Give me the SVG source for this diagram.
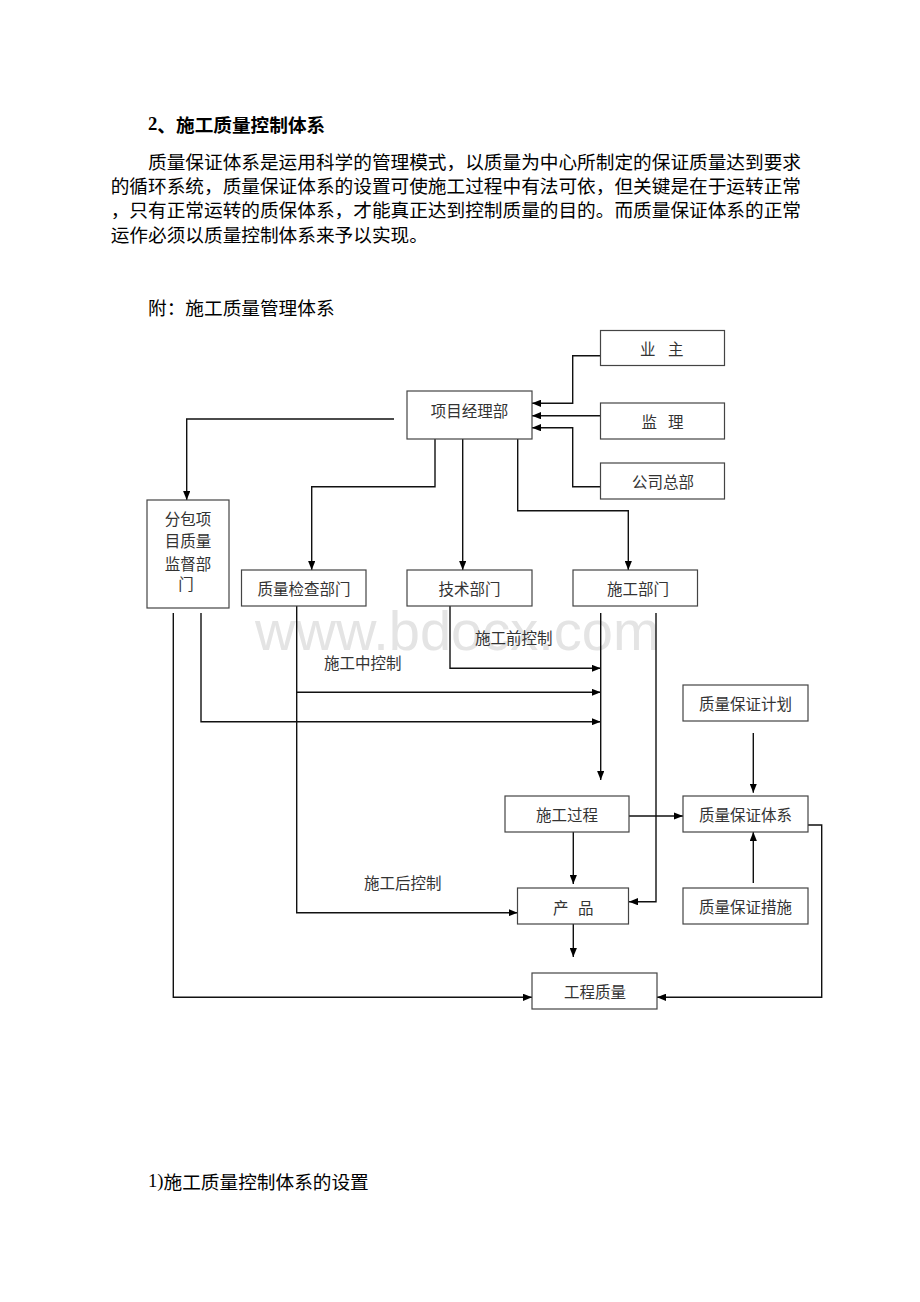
<svg xmlns="http://www.w3.org/2000/svg" width="920" height="1302" viewBox="0 0 920 1302">
<style>
.body{font-family:"Noto Sans CJK SC","Liberation Serif",serif;font-size:18.67px;fill:#000;dominant-baseline:central}
.title{font-family:"Noto Sans CJK SC","Liberation Serif",serif;font-size:18.67px;font-weight:bold;fill:#000;dominant-baseline:central}
.box{fill:#fff;stroke:#444;stroke-width:1.2}
.t{font-family:"Noto Sans CJK SC","Liberation Sans",sans-serif;font-size:15.5px;fill:#333;text-anchor:middle;dominant-baseline:central}
.ts{font-family:"Noto Sans CJK SC","Liberation Sans",sans-serif;font-size:15.5px;fill:#333;dominant-baseline:central}
.c{fill:none;stroke:#222;stroke-width:1.2}
.a{fill:none;stroke:#111;stroke-width:1.4;marker-end:url(#ah)}
.wm{font-family:"Liberation Sans",Arial,sans-serif;font-size:56px;fill:#e4e4e4}
</style>
<defs>
<marker id="ah" viewBox="0 0 10 8" refX="10" refY="4" markerWidth="9" markerHeight="7.5" markerUnits="userSpaceOnUse" orient="auto">
<path d="M0,0 L10,4 L0,8 z" fill="#000"/>
</marker>
</defs>
<rect width="920" height="1302" fill="#fff"/>

<g id="header">
<text class="title" x="148" y="123"><tspan font-family="Liberation Serif">2</tspan>、施工质量控制体系</text>
<text class="body" x="148" y="160">质量保证体系是运用科学的管理模式，以质量为中心所制定的保证质量达到要求</text>
<text class="body" x="110.7" y="184.3">的循环系统，质量保证体系的设置可使施工过程中有法可依，但关键是在于运转正常</text>
<text class="body" x="110.7" y="208.6">，只有正常运转的质保体系，才能真正达到控制质量的目的。而质量保证体系的正常</text>
<text class="body" x="110.7" y="233">运作必须以质量控制体系来予以实现。</text>
<text class="body" x="148" y="306">附：施工质量管理体系</text>
<text class="body" x="148" y="1180"><tspan font-family="Liberation Serif">1)</tspan>施工质量控制体系的设置</text>
</g>

<text class="wm" x="255" y="650">www.bdocx.com</text>

<g id="connectors">
<path class="a" d="M600.5,355.7 H572.7 V403.3 H532"/>
<path class="a" d="M600.5,415.7 H532"/>
<path class="a" d="M600.5,486.7 H572.7 V427.7 H532"/>
<path class="a" d="M394,419 H186.7 V500"/>
<path class="a" d="M435,439 V486.7 H311.7 V570"/>
<path class="a" d="M462.7,439 V570"/>
<path class="a" d="M517.7,439 V510.7 H628.3 V570"/>
<path class="a" d="M173.3,613 V997.3 H532"/>
<path class="a" d="M201,613 V721.7 H600.7"/>
<path class="a" d="M296.7,606 V912.7 H517.5"/>
<path class="a" d="M296.7,692.3 H600.7"/>
<path class="a" d="M450,606 V668.3 H600.7"/>
<path class="a" d="M600.7,613 V780"/>
<path class="a" d="M656,613 V901.7 H629"/>
<path class="a" d="M629,816 H683"/>
<path class="a" d="M573.3,832 V884"/>
<path class="a" d="M573.3,924 V957"/>
<path class="a" d="M753.3,733 V792.7"/>
<path class="a" d="M753.3,883 V832"/>
<path class="a" d="M808,825 H821.7 V997.3 H657"/>
</g>

<g id="yezhu"><rect class="box" x="600.5" y="330.5" width="124" height="35"/><text class="ts" x="640" y="348">业 <tspan x="668">主</tspan></text></g>
<g id="xiangmujinglibu"><rect class="box" x="407" y="391" width="125" height="48"/><text class="t" x="469.5" y="409.5">项目经理部</text></g>
<g id="jianli"><rect class="box" x="600.5" y="403" width="124" height="36"/><text class="ts" x="641.5" y="421">监 <tspan x="668">理</tspan></text></g>
<g id="gongsizongbu"><rect class="box" x="600.5" y="463" width="124" height="36"/><text class="t" x="663" y="481">公司总部</text></g>
<g id="fenbao"><rect class="box" x="147" y="500" width="82" height="108"/>
<text class="t" x="188" y="518.3">分包项</text>
<text class="t" x="188" y="540">目质量</text>
<text class="t" x="188" y="563.3">监督部</text>
<text class="t" x="186" y="583.3">门</text></g>
<g id="zhiliangjiancha"><rect class="box" x="241.5" y="570" width="124.5" height="36"/><text class="t" x="304" y="588">质量检查部门</text></g>
<g id="jishubumen"><rect class="box" x="407" y="570" width="125" height="36"/><text class="t" x="469.5" y="588">技术部门</text></g>
<g id="shigongbumen"><rect class="box" x="573" y="570" width="124.5" height="36"/><text class="t" x="638" y="588">施工部门</text></g>
<g id="zhibaojihua"><rect class="box" x="683" y="685" width="125" height="36"/><text class="t" x="745.5" y="703">质量保证计划</text></g>
<g id="shigongguocheng"><rect class="box" x="505" y="796" width="124" height="36"/><text class="t" x="567" y="814">施工过程</text></g>
<g id="zhibaotixi"><rect class="box" x="683" y="796" width="125" height="36"/><text class="t" x="745.5" y="814">质量保证体系</text></g>
<g id="chanpin"><rect class="box" x="517.5" y="888" width="111" height="36"/><text class="ts" x="553" y="906.5">产 <tspan x="578">品</tspan></text></g>
<g id="zhibaocuoshi"><rect class="box" x="683" y="888" width="125" height="36"/><text class="t" x="745.5" y="906">质量保证措施</text></g>
<g id="gongchengzhiliang"><rect class="box" x="532" y="973" width="125" height="36"/><text class="t" x="595" y="991">工程质量</text></g>

<g id="labels">
<text class="ts" x="475" y="637">施工前控制</text>
<text class="ts" x="324" y="661.7">施工中控制</text>
<text class="ts" x="364" y="881.7">施工后控制</text>
</g>
</svg>
